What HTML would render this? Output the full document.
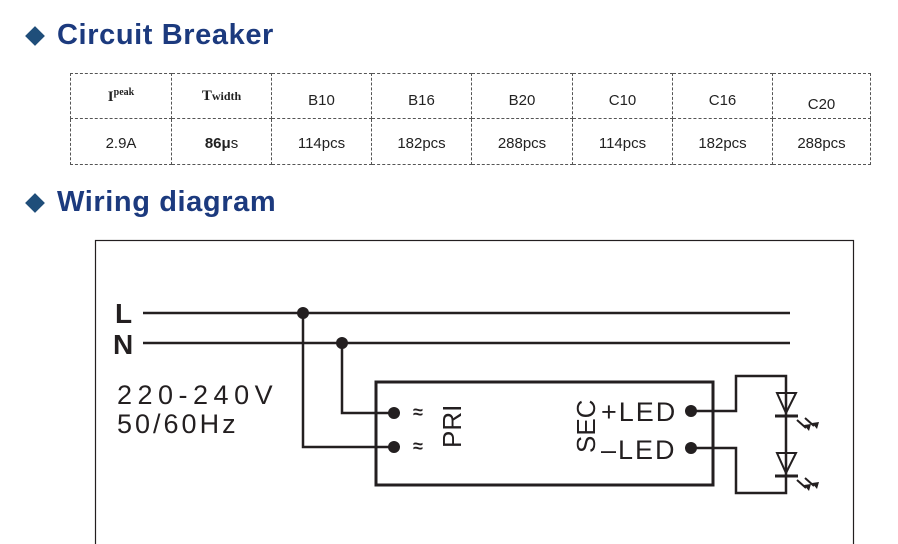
<!DOCTYPE html>
<html><head><meta charset="utf-8"><style>
html,body{margin:0;padding:0;background:#fff;width:898px;height:544px;overflow:hidden}
.h{position:absolute;left:57px;font:bold 29px "Liberation Sans",sans-serif;color:#1c3a7e;letter-spacing:0.6px}
.d{position:absolute;width:14px;height:14px;background:#1f4e7a;transform:rotate(45deg)}
table{position:absolute;left:70px;top:73px;border-collapse:collapse;font:15px "Liberation Sans",sans-serif;color:#222}
td{border:1px dashed #555;text-align:center;padding:0}
tr.a td{padding-top:8px}
tr.b td{padding-top:4px}
</style></head><body>
<div class="d" style="left:28px;top:29px"></div><div class="h" style="top:19px">Circuit Breaker</div>
<div class="d" style="left:28px;top:196px"></div><div class="h" style="top:186px">Wiring diagram</div>
<table>
<tr class="a" style="height:45px"><td style="width:100px;font:bold 15px 'Liberation Serif',serif;padding-top:0">I<sup style="font-size:10px">peak</sup></td><td style="width:99px;font:bold 15px 'Liberation Serif',serif;padding-top:0">T<span style="font-size:12px">width</span></td><td style="width:99px">B10</td><td style="width:99px">B16</td><td style="width:100px">B20</td><td style="width:99px">C10</td><td style="width:99px">C16</td><td style="width:97px;padding-top:16px">C20</td></tr>
<tr class="b" style="height:46px"><td>2.9A</td><td><b>86μ</b>s</td><td>114pcs</td><td>182pcs</td><td>288pcs</td><td>114pcs</td><td>182pcs</td><td>288pcs</td></tr>
</table>
<svg style="position:absolute;left:0;top:0" width="898" height="544">
<g stroke="#231f20" fill="none" stroke-width="2.5">
<rect x="95.5" y="240.5" width="758" height="320" stroke-width="1.2"/>
<path d="M143 313H790M143 343H790M303 313V447H393M342 343V413H393"/>
<rect x="376" y="382" width="337" height="103" stroke-width="3"/>
<path d="M691 411H736V376H786V493H736V448H691"/>
<path d="M777 393H796L786 413ZM777 453H796L786 473Z" stroke-width="2"/>
<path d="M775 416H798M775 476H798" stroke-width="3"/>
<path d="M797 420L806 428M805 418L814 426M797 480L806 488M805 478L814 486" stroke-width="2"/>
</g>
<g fill="#231f20">
<circle cx="303" cy="313" r="6"/><circle cx="342" cy="343" r="6"/>
<circle cx="394" cy="413" r="6"/><circle cx="394" cy="447" r="6"/>
<circle cx="691" cy="411" r="6"/><circle cx="691" cy="448" r="6"/>
<path d="M809 431L804 425L811 424ZM817 429L812 423L819 422ZM809 491L804 485L811 484ZM817 489L812 483L819 482Z"/>
</g>
<g fill="#231f20" font-family="Liberation Sans,sans-serif">
<text x="115" y="323" font-size="28" font-weight="bold">L</text>
<text x="113" y="354" font-size="28" font-weight="bold">N</text>
<text x="117" y="404" font-size="27" letter-spacing="5.5">220-240V</text>
<text x="117" y="433" font-size="27" letter-spacing="3">50/60Hz</text>
<text x="413" y="418" font-size="18" font-weight="bold">≈</text><text x="413" y="452" font-size="18" font-weight="bold">≈</text>
<text transform="translate(461,448) rotate(-90)" font-size="26">PRI</text>
<text transform="translate(595,453) rotate(-90)" font-size="26">SEC</text>
<text x="601" y="421" font-size="27" letter-spacing="2">+LED</text>
<text x="601" y="459" font-size="27" letter-spacing="2">–LED</text>
</g>
</svg>
</body></html>
